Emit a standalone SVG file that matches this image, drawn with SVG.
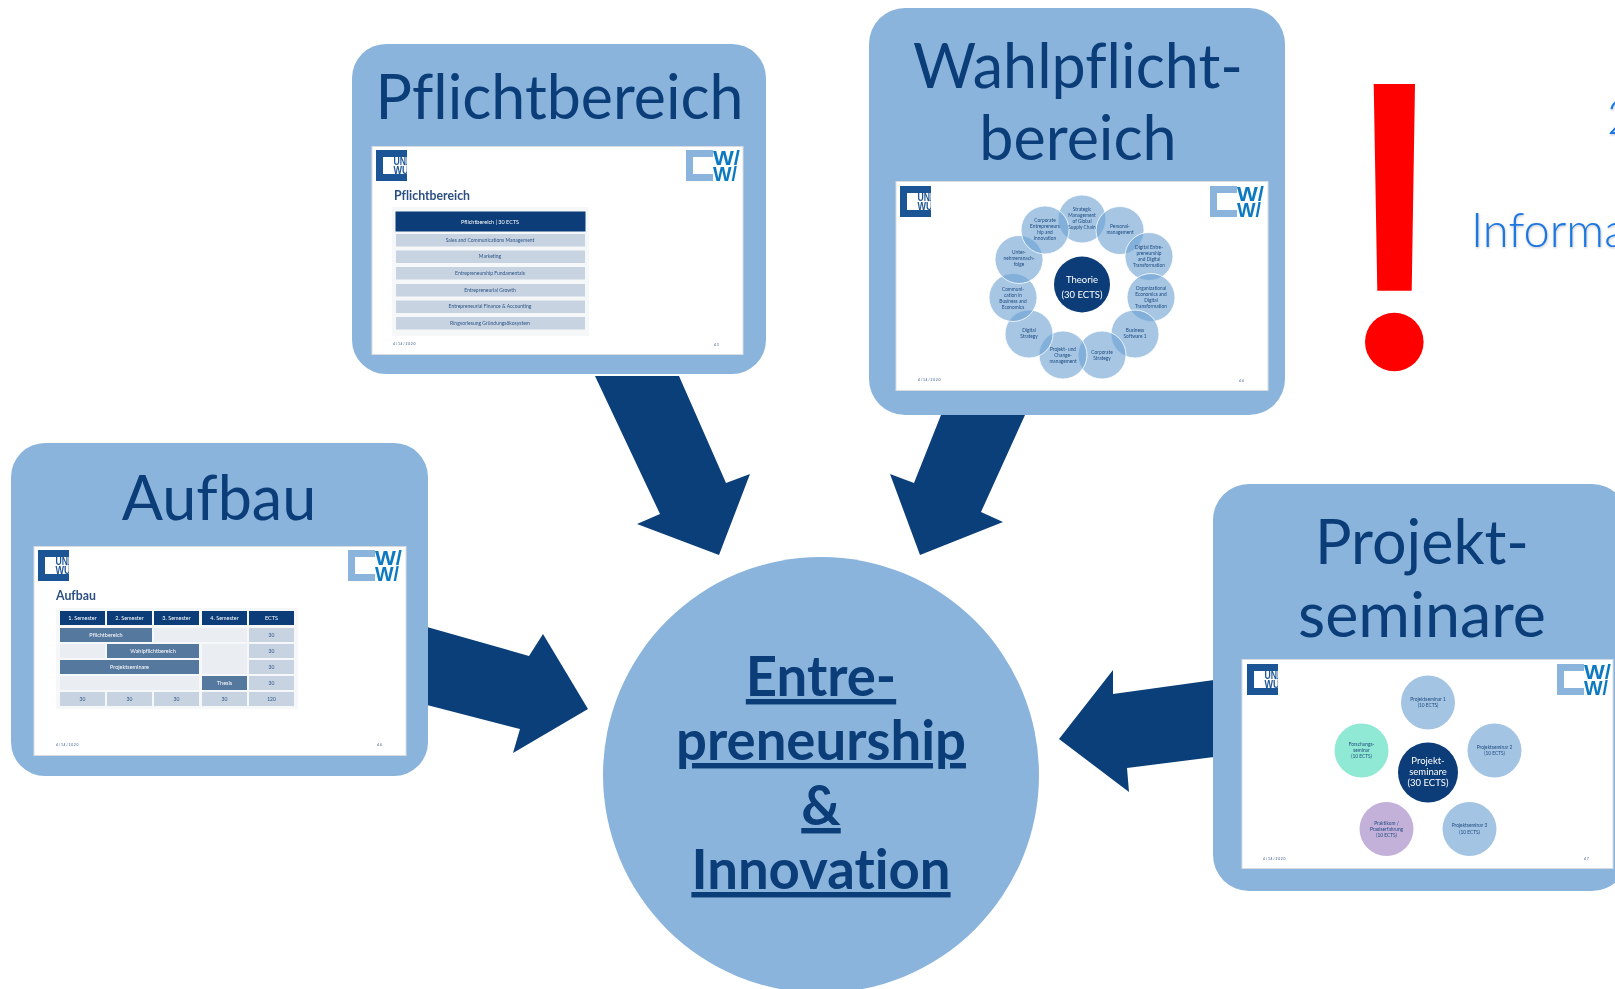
<svg xmlns="http://www.w3.org/2000/svg" xmlns:xlink="http://www.w3.org/1999/xlink" width="1615" height="989" viewBox="0 0 1615 989">
<style>
text{font-family:Lato,"Liberation Sans",sans-serif;font-variant-ligatures:none}
.box{fill:#8ab4dc}
.slide{fill:#fff;stroke:#d8dce0;stroke-width:1}
.title{font-size:61px;fill:#0b3d78;text-anchor:middle}
.main{font-size:54.500px;font-weight:700;fill:#0b3d78;text-anchor:middle;text-decoration:underline}
.arrow{fill:#0b3f7a}
.st{font-size:12.300px;font-weight:700;fill:#2c5080}
.d{fill:#0a3d78}.m{fill:#55789f}.l{fill:#eaeef3}.g{fill:#c7d3e0}.bg{fill:#f5f7f9}
.t{font-size:5px;fill:#2c5587;text-anchor:middle}
.w{font-size:5.500px;fill:#fff;text-anchor:middle}
.c{font-size:9.500px;fill:#fff;text-anchor:middle}
.n{font-size:4.800px;fill:#1f4a7f;text-anchor:middle}
.f{font-size:3.400px;letter-spacing:.7px;fill:#2c5587}
.ring{fill:#6ea3d3;fill-opacity:.62;stroke:#fff;stroke-width:.8}
.sem{fill:#a3c4e3}
.info{font-weight:300;font-size:47px;fill:#1f77e0}
.lg{font-weight:700;style:normal}
</style>
<defs>
<filter id="soft" x="-2%" y="-2%" width="104%" height="104%"><feGaussianBlur stdDeviation="0.5"/></filter>
<filter id="shadow" x="-5%" y="-10%" width="110%" height="130%"><feDropShadow dx="0.5" dy="1" stdDeviation="1" flood-color="#000" flood-opacity=".25"/></filter>
<clipPath id="uniClip"><rect x="0" y="0" width="31" height="31"/></clipPath>
<g id="logos">
<g clip-path="url(#uniClip)">
<path fill="#1f5596" d="M0 0H31V7H7V24H31V31H0Z"/>
<text x="17.500" y="15" font-size="10.500" font-weight="700" fill="#1f5596" textLength="15" lengthAdjust="spacingAndGlyphs" style="font-family:'Liberation Sans',sans-serif">UNI</text>
<text x="17.500" y="23.500" font-size="10.500" font-weight="700" fill="#1f5596" textLength="15" lengthAdjust="spacingAndGlyphs" style="font-family:'Liberation Sans',sans-serif">WÜ</text>
</g>
<path fill="#8ab4dc" transform="translate(310 0)" d="M0 0H27V7H7V24H27V31H0Z"/>
<text x="337" y="14.500" font-size="20" font-weight="700" fill="#0b79c1" textLength="27" lengthAdjust="spacingAndGlyphs" style="font-family:'Liberation Sans',sans-serif">W/</text>
<text x="337" y="31" font-size="20" font-weight="700" fill="#0b79c1" textLength="24" lengthAdjust="spacingAndGlyphs" style="font-family:'Liberation Sans',sans-serif">W/</text>
</g>
</defs>

<g id="connectors">
<polygon class="arrow" points="595,376 679,376 726,483 750,474 719,555 637,524 660,514"/>
<polygon class="arrow" points="941,415 1025,415 981,512 1003,522 920,555 890,474 914,483"/>
<polygon class="arrow" points="427,627 529,656 543,634 588,709 513,753 520,729 427,705"/>
<polygon class="arrow" points="1214,680 1113,694 1113,670 1059,739 1129,792 1127,768 1214,757"/>
</g>

<g id="node-aufbau">
<rect class="box" x="11" y="443" width="417" height="333" rx="34"/>
<text class="title" x="219" y="520">Aufbau</text>
<rect class="slide" x="34" y="546.500" width="372" height="209"/>
<g filter="url(#soft)">
<use xlink:href="#logos" href="#logos" x="38" y="550"/>
<text class="st" x="56" y="600">Aufbau</text>
<rect class="bg" x="56" y="608" width="242" height="101"/>
<rect class="d" x="60" y="611" width="45" height="14"/><rect class="d" x="107" y="611" width="45" height="14"/><rect class="d" x="154" y="611" width="45" height="14"/><rect class="d" x="202" y="611" width="45" height="14"/><rect class="d" x="249" y="611" width="45" height="14"/>
<text class="w" x="82.500" y="620">1. Semester</text><text class="w" x="129.500" y="620">2. Semester</text><text class="w" x="176.500" y="620">3. Semester</text><text class="w" x="224.500" y="620">4. Semester</text><text class="w" x="271.500" y="620">ECTS</text>
<rect class="m" x="60" y="628" width="92" height="14"/><rect class="l" x="154" y="628" width="93" height="14"/><rect class="g" x="249" y="628" width="45" height="14"/>
<text class="w" x="106" y="636.500">Pflichtbereich</text><text class="t" x="271.500" y="636.500">30</text>
<rect class="l" x="60" y="644" width="45" height="14"/><rect class="m" x="107" y="644" width="92" height="14"/><rect class="l" x="202" y="644" width="45" height="30"/><rect class="g" x="249" y="644" width="45" height="14"/>
<text class="w" x="153" y="652.500">Wahlpflichtbereich</text><text class="t" x="271.500" y="652.500">30</text>
<rect class="m" x="60" y="660" width="139" height="14"/><rect class="g" x="249" y="660" width="45" height="14"/>
<text class="w" x="129.500" y="668.500">Projektseminare</text><text class="t" x="271.500" y="668.500">30</text>
<rect class="l" x="60" y="676" width="139" height="14"/><rect class="m" x="202" y="676" width="45" height="14"/><rect class="g" x="249" y="676" width="45" height="14"/>
<text class="w" x="224.500" y="684.500">Thesis</text><text class="t" x="271.500" y="684.500">30</text>
<rect class="g" x="60" y="692" width="45" height="14"/><rect class="g" x="107" y="692" width="45" height="14"/><rect class="g" x="154" y="692" width="45" height="14"/><rect class="g" x="202" y="692" width="45" height="14"/><rect class="g" x="249" y="692" width="45" height="14"/>
<text class="t" x="82.500" y="700.500">30</text><text class="t" x="129.500" y="700.500">30</text><text class="t" x="176.500" y="700.500">30</text><text class="t" x="224.500" y="700.500">30</text><text class="t" x="271.500" y="700.500">120</text>
<text class="f" x="56" y="746">4/14/2020</text><text class="f" x="377" y="746">44</text>
</g>
</g>

<g id="node-pflichtbereich">
<rect class="box" x="352" y="44" width="414" height="330" rx="34"/>
<text class="title" x="559.500" y="119" textLength="368" lengthAdjust="spacingAndGlyphs">Pflichtbereich</text>
<rect class="slide" x="372" y="146.500" width="371" height="208"/>
<g filter="url(#soft)">
<use xlink:href="#logos" href="#logos" x="376" y="150"/>
<text class="st" x="394" y="200">Pflichtbereich</text>
<rect class="bg" x="392" y="207" width="197" height="129"/>
<rect class="d" x="395.500" y="211.500" width="190" height="20"/>
<text class="w" x="490" y="223.500">Pflichtbereich | 30 ECTS</text>
<rect class="g" x="396" y="234" width="189" height="12.500"/><rect class="g" x="396" y="250.500" width="189" height="12.500"/><rect class="g" x="396" y="267" width="189" height="12.500"/><rect class="g" x="396" y="284" width="189" height="12.500"/><rect class="g" x="396" y="300.500" width="189" height="12.500"/><rect class="g" x="396" y="317" width="189" height="12.500"/>
<text class="t" x="490" y="241.800">Sales and Communications Management</text>
<text class="t" x="490" y="258.300">Marketing</text>
<text class="t" x="490" y="274.800">Entrepreneurship Fundamentals</text>
<text class="t" x="490" y="291.800">Entrepreneurial Growth</text>
<text class="t" x="490" y="308.300">Entrepreneurial Finance &amp; Accounting</text>
<text class="t" x="490" y="324.800">Ringvorlesung Gründungsökosystem</text>
<text class="f" x="393" y="345">4/14/2020</text><text class="f" x="714" y="346">43</text>
</g>
</g>

<g id="node-wahlpflichtbereich">
<rect class="box" x="869" y="8" width="416" height="407" rx="36"/>
<text class="title" x="1078" y="88">Wahlpflicht-</text>
<text class="title" x="1078" y="160">bereich</text>
<rect class="slide" x="896" y="181.500" width="372" height="209"/>
<g filter="url(#soft)">
<use xlink:href="#logos" href="#logos" x="900" y="186"/>
<circle class="ring" cx="1082" cy="219" r="24"/>
<circle class="ring" cx="1120" cy="230.500" r="24"/>
<circle class="ring" cx="1149" cy="256.500" r="24"/>
<circle class="ring" cx="1151" cy="297.500" r="24"/>
<circle class="ring" cx="1135" cy="334" r="24"/>
<circle class="ring" cx="1102" cy="355" r="24"/>
<circle class="ring" cx="1063" cy="355" r="24"/>
<circle class="ring" cx="1029" cy="334" r="24"/>
<circle class="ring" cx="1013" cy="297.500" r="24"/>
<circle class="ring" cx="1019" cy="259.500" r="24"/>
<circle class="ring" cx="1045" cy="230" r="24"/>
<circle class="d" cx="1082" cy="284.500" r="28"/>
<text class="c" x="1082" y="283">Theorie</text><text class="c" x="1082" y="298">(30 ECTS)</text>
<text class="n" x="1082" y="211">Strategic</text><text class="n" x="1082" y="217">Management</text><text class="n" x="1082" y="223">of Global</text><text class="n" x="1082" y="229">Supply Chain</text>
<text class="n" x="1120" y="228">Personal-</text><text class="n" x="1120" y="234">management</text>
<text class="n" x="1149" y="249">Digital Entre-</text><text class="n" x="1149" y="255">preneurship</text><text class="n" x="1149" y="261">and Digital</text><text class="n" x="1149" y="267">Transformation</text>
<text class="n" x="1151" y="290">Organizational</text><text class="n" x="1151" y="296">Economics and</text><text class="n" x="1151" y="302">Digital</text><text class="n" x="1151" y="308">Transformation</text>
<text class="n" x="1135" y="332">Business</text><text class="n" x="1135" y="338">Software 1</text>
<text class="n" x="1102" y="354">Corporate</text><text class="n" x="1102" y="360">Strategy</text>
<text class="n" x="1063" y="351">Projekt- und</text><text class="n" x="1063" y="357">Change-</text><text class="n" x="1063" y="363">management</text>
<text class="n" x="1029" y="332">Digital</text><text class="n" x="1029" y="338">Strategy</text>
<text class="n" x="1013" y="291">Communi-</text><text class="n" x="1013" y="297">cation in</text><text class="n" x="1013" y="303">Business and</text><text class="n" x="1013" y="309">Economics</text>
<text class="n" x="1019" y="254">Unter-</text><text class="n" x="1019" y="260">nehmensnach-</text><text class="n" x="1019" y="266">folge</text>
<text class="n" x="1045" y="222">Corporate</text><text class="n" x="1045" y="228">Entrepreneurs</text><text class="n" x="1045" y="234">hip and</text><text class="n" x="1045" y="240">Innovation</text>
<text class="f" x="918" y="381">4/14/2020</text><text class="f" x="1239" y="382">44</text>
</g>
</g>

<g id="node-projektseminare">
<rect class="box" x="1213" y="484" width="415" height="407" rx="36"/>
<text class="title" x="1422" y="564">Projekt-</text>
<text class="title" x="1422" y="637" textLength="248" lengthAdjust="spacingAndGlyphs">seminare</text>
<rect class="slide" x="1242" y="659.500" width="371" height="209"/>
<g filter="url(#soft)">
<use xlink:href="#logos" href="#logos" x="1247" y="664"/>
<circle class="sem" cx="1428" cy="702.500" r="27"/>
<circle class="sem" cx="1494.500" cy="750.500" r="27"/>
<circle class="sem" cx="1469.500" cy="829" r="27"/>
<circle cx="1386.500" cy="829" r="27" fill="#c3b1da"/>
<circle cx="1361.500" cy="750.500" r="27" fill="#90e9d4"/>
<circle class="d" cx="1428" cy="772.500" r="30"/>
<text class="c" x="1428" y="764">Projekt-</text><text class="c" x="1428" y="775">seminare</text><text class="c" x="1428" y="785.500">(30 ECTS)</text>
<text class="n" x="1428" y="700.500">Projektseminar 1</text><text class="n" x="1428" y="707">(10 ECTS)</text>
<text class="n" x="1494.500" y="748.500">Projektseminar 2</text><text class="n" x="1494.500" y="755">(10 ECTS)</text>
<text class="n" x="1469.500" y="827">Projektseminar 3</text><text class="n" x="1469.500" y="833.500">(10 ECTS)</text>
<text class="n" x="1386.500" y="824.500">Praktikum /</text><text class="n" x="1386.500" y="830.500">Praxiserfahrung</text><text class="n" x="1386.500" y="836.500">(10 ECTS)</text>
<text class="n" x="1361.500" y="746">Forschungs-</text><text class="n" x="1361.500" y="752">seminar</text><text class="n" x="1361.500" y="758">(10 ECTS)</text>
<text class="f" x="1263" y="860">4/14/2020</text><text class="f" x="1584" y="860">47</text>
</g>
</g>

<g id="node-center">
<circle class="box" cx="821" cy="775" r="218"/>
<text class="main" x="821" y="696">Entre-</text>
<text class="main" x="821" y="760">preneurship</text>
<text class="main" x="821" y="825">&amp;</text>
<text class="main" x="821" y="889">Innovation</text>
</g>

<g id="node-hint">
<polygon fill="#f00" points="1373.700,84 1415,84 1411.700,290.700 1377.300,290.700"/>
<circle fill="#f00" cx="1394.300" cy="342" r="29.300"/>
<text class="info" x="1607" y="134" filter="url(#shadow)">2</text>
<text class="info" x="1471" y="246.500" filter="url(#shadow)">Informa</text>
</g>
</svg>
